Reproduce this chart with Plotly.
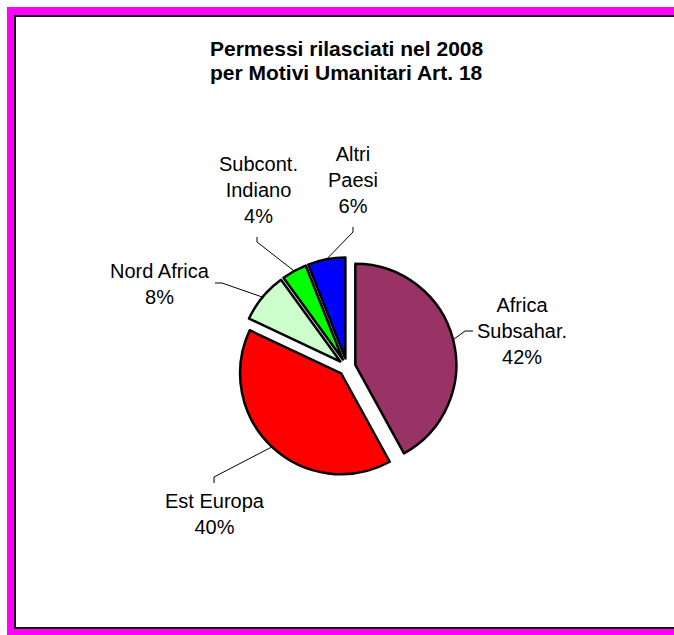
import math

import plotly.graph_objects as go

W, H = 674, 635

# data
labels = ["Africa Subsahar.", "Est Europa", "Nord Africa", "Subcont. Indiano", "Altri Paesi"]
label_text = ["Africa<br>Subsahar.", "Est Europa", "Nord Africa", "Subcont.<br>Indiano", "Altri<br>Paesi"]
values = [42, 40, 8, 4, 6]
colors = ["#993366", "#FF0000", "#CCFFCC", "#00FF00", "#0000FF"]

title_lines = ["Permessi rilasciati nel 2008", "per Motivi Umanitari Art. 18"]

# pie geometry (pixels)
PIE_CX, PIE_CY, PIE_R, PULL = 347, 367, 101, 0.085
half = PIE_R * (1 + PULL)

# label centres and leader-line knee / end points (pixels)
label_pos = [(522, 331), (215, 514), (160, 284), (258, 190), (353, 180)]
leader_knee = [(465, 331), (214, 477), (222, 283), (257, 242), (353, 232)]
leader_end = [(473, 331), (214, 483), (215, 283), (257, 237), (353, 227)]


def px(x):
    return x / W


def py(y):
    return 1 - y / H


fig = go.Figure()
fig.add_trace(
    go.Pie(
        labels=labels,
        values=values,
        sort=False,
        direction="clockwise",
        rotation=0,
        pull=[PULL] * len(values),
        marker=dict(colors=colors, line=dict(color="black", width=2.5)),
        textinfo="none",
        showlegend=False,
        domain=dict(
            x=[px(PIE_CX - half), px(PIE_CX + half)],
            y=[py(PIE_CY + half), py(PIE_CY - half)],
        ),
    )
)


def strip(x0, y0, x1, y1, color):
    return dict(type="rect", xref="paper", yref="paper", x0=px(x0), x1=px(x1), y0=py(y1), y1=py(y0),
                fillcolor=color, line=dict(width=0), layer="below")


# magenta frame strips (left, top, bottom) and dark border lines of the inner panel
shapes = [
    strip(7, 7, 15, H, "#FF00FF"),
    strip(7, 7, W, 15, "#FF00FF"),
    strip(7, 629, W, H, "#FF00FF"),
    strip(14, 15, 16, 628, "#111111"),
    strip(14, 15, W, 17, "#111111"),
    strip(14, 627, W, 629, "#111111"),
]

annotations = []
for j, line in enumerate(title_lines):
    annotations.append(
        dict(text=f"<b>{line}</b>", x=px(347), y=py(48 + 24 * j), xref="paper", yref="paper",
             showarrow=False, xanchor="center", yanchor="middle",
             font=dict(size=21, color="black"))
    )

total = sum(values)
cum = 0
for i, v in enumerate(values):
    mid = (cum + v / 2) / total * 2 * math.pi
    cum += v
    # pulled centre then edge point on the bisector
    cx = PIE_CX + PULL * PIE_R * math.sin(mid)
    cy = PIE_CY - PULL * PIE_R * math.cos(mid)
    ex = cx + PIE_R * math.sin(mid)
    ey = cy - PIE_R * math.cos(mid)
    kx, ky = leader_knee[i]
    tx, ty = leader_end[i]
    shapes.append(
        dict(type="path", xref="paper", yref="paper",
             path=f"M {px(ex)},{py(ey)} L {px(kx)},{py(ky)} L {px(tx)},{py(ty)}",
             line=dict(color="black", width=1))
    )
    lx, ly = label_pos[i]
    annotations.append(
        dict(text=f"{label_text[i]}<br>{round(v / total * 100)}%", x=px(lx), y=py(ly),
             xref="paper", yref="paper", showarrow=False, xanchor="center", yanchor="middle",
             font=dict(size=20, color="black"))
    )

fig.update_layout(
    width=W,
    height=H,
    margin=dict(l=0, r=0, t=0, b=0),
    paper_bgcolor="white",
    plot_bgcolor="white",
    font=dict(family="Liberation Sans, Arial, sans-serif"),
    shapes=shapes,
    annotations=annotations,
)

fig.write_html(
    "out.html",
    config={"displayModeBar": False},
    post_script=(
        "document.documentElement.style.overflow='hidden';"
        "document.body.style.margin='0';document.body.style.overflow='hidden';"
    ),
)
